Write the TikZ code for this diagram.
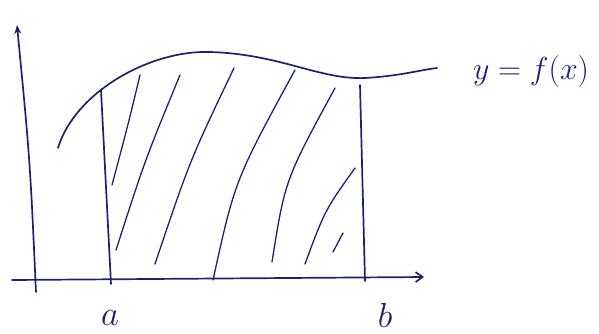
\documentclass[tikz,border=0pt]{standalone}
\usetikzlibrary{arrows.meta}
\definecolor{ink}{RGB}{28,34,112}
\begin{document}
\begin{tikzpicture}[x=1pt,y=-1pt,
axis/.style={draw=ink,line width=1.7pt,line cap=round},
hatch/.style={draw=ink,line width=1.3pt,line cap=round},
every node/.style={text=ink,inner sep=0pt}
]
\useasboundingbox (0,0) rectangle (599,333);
% axes
\coordinate (ybot) at (36,292);
\coordinate (ytop) at (17,25);
\coordinate (xleft) at (12,280);
\coordinate (xright) at (424,277);
\draw[axis,-{Stealth[length=9pt,width=7pt]}] (ybot) .. controls (30,160) .. (ytop);
\draw[axis,-{Straight Barb[length=7pt,width=10pt]}] (xleft) -- (xright);
% curve y=f(x)
\draw[axis] (58,148) .. controls (75,92) and (150,50) .. (210,52)
  .. controls (280,54) and (320,80) .. (365,78)
  .. controls (400,76) and (420,70) .. (437,68);
\node (f) at (531,72) {\scalebox{1.28}{\Huge$y=f(x)$}};
% limits
\coordinate (atop) at (101,90);
\coordinate (abot) at (111,284);
\coordinate (btop) at (360,85);
\coordinate (bbot) at (365,281);
\draw[axis] (atop) -- (abot);
\draw[axis] (btop) -- (bbot);
\node (a) at (110,318) {\scalebox{1.4}{\Huge$a$}};
\node (b) at (385,315) {\scalebox{1.4}{\Huge$b$}};
% hatching
\draw[hatch] (140,75) .. controls (128,125) .. (112,185);
\draw[hatch] (180,75) .. controls (145,160) .. (116,250);
\draw[hatch] (234,68) .. controls (190,160) .. (155,264);
\draw[hatch] (295,70) .. controls (235,180) .. (213,280);
\draw[hatch] (335,88) .. controls (285,180) .. (272,262);
\draw[hatch] (355,168) .. controls (325,210) .. (305,264);
\draw[hatch] (343,233) -- (333,252);
\end{tikzpicture}
\end{document}
